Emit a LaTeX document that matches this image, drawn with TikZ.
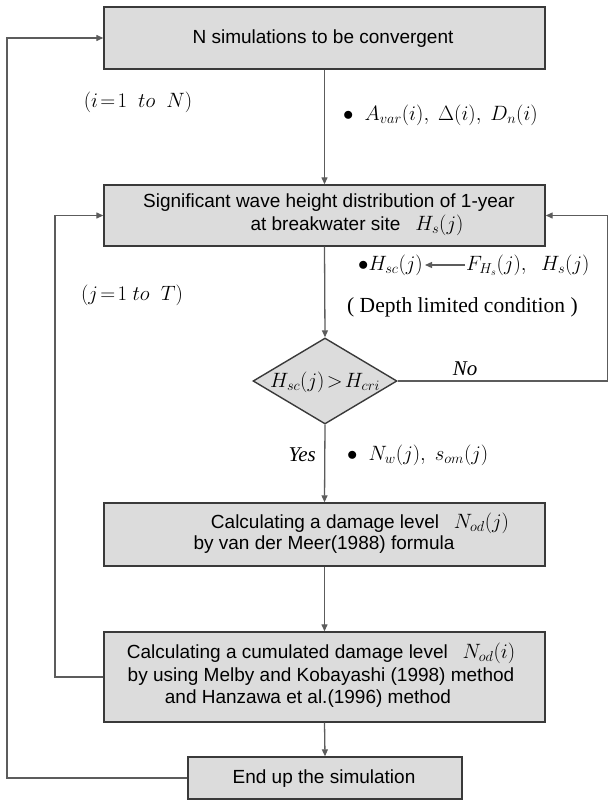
\documentclass[tikz,border=0pt]{standalone}
\usepackage{fontspec}
\setmainfont{Liberation Sans}
\newfontfamily\serif{Liberation Serif}
\usetikzlibrary{arrows.meta,shapes.geometric}
\definecolor{boxfill}{HTML}{DCDCDC}
\definecolor{boxline}{HTML}{3A3A3A}
\definecolor{connc}{HTML}{5C5C5C}
\begin{document}
\begin{tikzpicture}[x=1pt,y=-1pt,
  box/.style={draw=boxline,fill=boxfill,line width=1.4pt,inner sep=0pt},
  conn/.style={draw=connc,line width=1.3pt,line join=miter},
  arr/.style={conn,-{Triangle[length=7pt,width=6pt]}},
  txt/.style={font=\fontsize{19}{22}\selectfont,inner sep=0pt},
  lab/.style={font=\fontsize{20}{24}\selectfont,inner sep=0pt},
  slab/.style={font=\serif\fontsize{21.5}{24}\selectfont,inner sep=0pt},
  ilab/.style={font=\serif\itshape\fontsize{21}{24}\selectfont,inner sep=0pt}]
\useasboundingbox (0,0) rectangle (609,800);

% boxes
\node[box,minimum width=441pt,minimum height=62pt] (b1) at (324.5,38) {};
\node[box,minimum width=441pt,minimum height=61pt] (b2) at (324.5,215.5) {};
\node[box,diamond,aspect=1.67,minimum width=144pt,minimum height=86pt] (dia) at (325,381) {};
\node[box,minimum width=441pt,minimum height=63pt] (b3) at (324.5,534.5) {};
\node[box,minimum width=441pt,minimum height=90pt] (b4) at (324.5,677) {};
\node[box,minimum width=274pt,minimum height=42pt] (bend) at (325,778) {};

% box texts
\node[txt] (t1) at (323,39) {N simulations to be convergent};
\node[txt] (t2a) at (329,203) {Significant wave height distribution of 1-year};
\node[txt] (t2b) at (357,225) {at breakwater site \enspace{\fontsize{20}{22}\selectfont$H_s(j)$}};
\node[lab,font=\fontsize{21}{24}\selectfont] (tdia) at (325,382) {$H_{sc}(j)\!>\!H_{cri}$};
\node[txt] (t3a) at (360,523) {Calculating a damage level \enspace{\fontsize{20}{22}\selectfont$N_{od}(j)$}};
\node[txt] (t3b) at (324,545) {by van der Meer(1988) formula};
\node[txt] (t4a) at (321,653) {Calculating a cumulated damage level \enspace{\fontsize{20}{22}\selectfont$N_{od}(i)$}};
\node[txt] (t4b) at (321,677) {by using Melby and Kobayashi (1998) method};
\node[txt] (t4c) at (308,699) {and Hanzawa et al.(1996) method};
\node[txt] (t5) at (324,779) {End up the simulation};

% labels
\node[lab] (l0) at (138,102) {$(i\!=\!1\ \ \mathnormal{to}\ \ N)$};
\node[lab,anchor=west] (l1) at (343,115) {$\bullet\ \ A_{var}(i),\ \Delta(i),\ D_n(i)$};
\node[lab] (l2) at (132,295) {$(j\!=\!1\ \mathnormal{to}\ \ T)$};
\node[lab,anchor=east] (l3a) at (423,265) {$\bullet H_{sc}(j)$};
\node[lab,anchor=west] (l3b) at (466,265) {$F_{H_s}(j),\ \ H_s(j)$};
\node[slab,anchor=west] (l4) at (347,307) {( Depth limited condition )};
\node[ilab] (no) at (465,369) {No};
\node[ilab,anchor=east] (yes) at (316,455) {Yes};
\node[lab,anchor=west] (l5) at (347,455) {$\bullet\ \ N_w(j),\ s_{om}(j)$};

% loop coordinates
\coordinate (oL) at (7,0);
\coordinate (iL) at (55,0);
\coordinate (rR) at (607.5,0);

% connectors
\draw[arr] (b1.south) -- (b2.north);
\draw[arr] (b2.south) -- (dia.north);
\draw[arr] (dia.south) -- (b3.north);
\draw[arr] (b3.south) -- (b4.north);
\draw[arr] (b4.south) -- (bend.north);
\draw[arr] (bend.west) -- (bend.west -| oL) -- (b1.west -| oL) -- (b1.west);
\draw[arr] (b4.west) -- (b4.west -| iL) -- (b2.west -| iL) -- (b2.west);
\draw[arr] (dia.east) -- (dia.east -| rR) -- (b2.east -| rR) -- (b2.east);
\draw[arr,shorten >=2pt,shorten <=1pt] (l3b.west) -- (l3a.east);
\end{tikzpicture}
\end{document}
